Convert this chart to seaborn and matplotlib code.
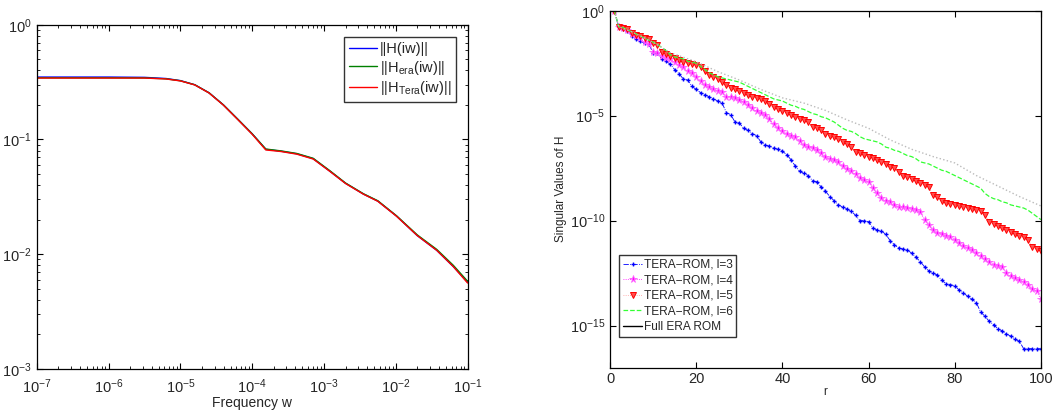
import numpy as np
import pandas as pd
import matplotlib
matplotlib.use("Agg")
import matplotlib.pyplot as plt
from matplotlib.lines import Line2D
import seaborn as sns

# ── Data ──────────────────────────────────────────────────────────────────
# left panel: frequency response, log10(w) and |H|
freq_log = [-7.0, -6.0, -5.5, -5.2, -5.0, -4.8, -4.6, -4.4, -4.2, -4.0, -3.81,
            -3.6, -3.38, -3.15, -2.92, -2.7, -2.45, -2.25, -1.99, -1.7, -1.43, -1.2, -1.0]
h_full = [0.350, 0.350, 0.348, 0.340, 0.326, 0.300, 0.255, 0.200, 0.150, 0.112, 0.0820,
          0.0790, 0.0750, 0.0680, 0.0530, 0.0415, 0.0334, 0.0290, 0.0215, 0.0145, 0.0108, 0.0078, 0.0057]
h_era = [0.345, 0.345, 0.344, 0.338, 0.325, 0.300, 0.255, 0.200, 0.150, 0.112, 0.0825,
         0.0795, 0.0755, 0.0685, 0.0535, 0.0417, 0.0336, 0.0292, 0.0216, 0.0147, 0.0110, 0.0080, 0.0058]
h_tera = [0.343, 0.343, 0.343, 0.337, 0.324, 0.299, 0.254, 0.199, 0.149, 0.111, 0.0810,
          0.0785, 0.0745, 0.0675, 0.0528, 0.0413, 0.0333, 0.0289, 0.0214, 0.0145, 0.0108, 0.0078, 0.0056]

# right panel: log10 of singular values for r = 1..100
r_vals = list(range(1, 101))
sv_l3 = [0, -0.76, -0.85, -0.95, -1.2, -1.35, -1.45, -1.55, -1.6, -2.0,
         -2.0, -2.3, -2.4, -2.55, -2.8, -3.0, -3.25, -3.3, -3.6, -3.75,
         -3.9, -4.0, -4.1, -4.2, -4.3, -4.4, -4.85, -4.95, -5.3, -5.35,
         -5.6, -5.7, -5.85, -5.95, -6.25, -6.4, -6.45, -6.55, -6.6, -6.7,
         -6.85, -7.1, -7.4, -7.65, -7.75, -7.85, -8.1, -8.15, -8.4, -8.6,
         -8.85, -9.05, -9.25, -9.35, -9.45, -9.55, -9.75, -10.0, -10.0, -10.05,
         -10.35, -10.45, -10.5, -10.65, -10.95, -11.15, -11.3, -11.35, -11.4, -11.55,
         -11.75, -11.95, -12.2, -12.4, -12.5, -12.6, -12.85, -13.0, -13.05, -13.1,
         -13.3, -13.45, -13.6, -13.75, -13.9, -14.35, -14.55, -14.8, -14.95, -15.15,
         -15.25, -15.4, -15.5, -15.65, -15.75, -16.1, -16.1, -16.1, -16.1, -16.1]
sv_l4 = [0, -0.76, -0.8, -0.9, -1.1, -1.2, -1.3, -1.5, -1.6, -1.95,
         -2.0, -2.15, -2.25, -2.3, -2.45, -2.6, -2.7, -2.85, -2.95, -3.15,
         -3.35, -3.55, -3.65, -3.75, -3.8, -3.85, -4.1, -4.1, -4.15, -4.25,
         -4.35, -4.5, -4.65, -4.8, -4.85, -4.95, -5.15, -5.4, -5.6, -5.75,
         -5.85, -5.95, -6.0, -6.2, -6.4, -6.5, -6.55, -6.65, -6.8, -6.95,
         -7.05, -7.1, -7.2, -7.4, -7.55, -7.65, -7.8, -7.95, -8.05, -8.15,
         -8.45, -8.7, -8.9, -9.05, -9.1, -9.25, -9.35, -9.35, -9.4, -9.45,
         -9.5, -9.6, -9.95, -10.2, -10.45, -10.6, -10.65, -10.75, -10.8, -10.9,
         -11.05, -11.2, -11.3, -11.4, -11.55, -11.7, -11.85, -11.95, -12.1, -12.15,
         -12.2, -12.5, -12.65, -12.75, -12.85, -12.9, -13.05, -13.25, -13.35, -13.75]
sv_l5 = [0, -0.76, -0.8, -0.85, -1.05, -1.15, -1.2, -1.3, -1.35, -1.55,
         -1.65, -1.95, -2.05, -2.15, -2.25, -2.35, -2.45, -2.5, -2.55, -2.6,
         -2.7, -2.85, -3.05, -3.15, -3.25, -3.4, -3.55, -3.7, -3.75, -3.8,
         -3.9, -4.0, -4.1, -4.15, -4.2, -4.3, -4.45, -4.6, -4.7, -4.8,
         -4.85, -4.95, -5.05, -5.15, -5.2, -5.3, -5.55, -5.6, -5.7, -5.85,
         -5.95, -6.0, -6.1, -6.25, -6.35, -6.5, -6.75, -6.8, -6.85, -6.95,
         -7.0, -7.1, -7.2, -7.3, -7.45, -7.5, -7.7, -7.85, -7.9, -8.0,
         -8.1, -8.2, -8.3, -8.4, -8.8, -8.85, -9.05, -9.15, -9.2, -9.25,
         -9.3, -9.35, -9.4, -9.45, -9.5, -9.55, -9.75, -10.05, -10.15, -10.25,
         -10.35, -10.45, -10.55, -10.65, -10.75, -10.8, -10.9, -11.25, -11.35, -11.45]
sv_l6 = [0, -0.76, -0.8, -0.9, -1.0, -1.1, -1.2, -1.3, -1.4, -1.5,
         -1.6, -1.75, -1.9, -2.1, -2.2, -2.25, -2.3, -2.4, -2.45, -2.5,
         -2.65, -2.8, -2.95, -3.05, -3.15, -3.2, -3.25, -3.3, -3.35, -3.4,
         -3.5, -3.6, -3.7, -3.8, -3.9, -4.0, -4.1, -4.2, -4.25, -4.3,
         -4.4, -4.5, -4.55, -4.65, -4.7, -4.8, -4.9, -4.95, -5.05, -5.1,
         -5.2, -5.3, -5.45, -5.6, -5.7, -5.75, -5.85, -6.0, -6.1, -6.15,
         -6.2, -6.25, -6.35, -6.5, -6.55, -6.65, -6.7, -6.8, -6.9, -6.95,
         -7.05, -7.2, -7.25, -7.3, -7.4, -7.5, -7.6, -7.65, -7.75, -7.85,
         -7.95, -8.05, -8.15, -8.25, -8.35, -8.45, -8.7, -8.85, -8.95, -9.0,
         -9.1, -9.15, -9.25, -9.3, -9.35, -9.4, -9.5, -9.65, -9.8, -9.95]
r_full = [1, 2, 5, 10, 14, 20, 25, 30, 35, 40, 45, 50, 55, 60, 65, 70, 75, 80, 85, 90, 95, 100]
sv_full = [0, -0.76, -1.0, -1.5, -2.0, -2.43, -2.9, -3.3, -3.75, -4.15, -4.4,
           -4.75, -5.2, -5.6, -6.15, -6.6, -6.95, -7.25, -7.85, -8.35, -8.85, -9.3]

# ── Style ─────────────────────────────────────────────────────────────────
sns.set_style("ticks")
plt.rcParams["font.family"] = ["Liberation Sans", "DejaVu Sans"]
plt.rcParams["mathtext.default"] = "regular"
plt.rcParams["xtick.direction"] = "in"
plt.rcParams["ytick.direction"] = "in"
plt.rcParams["axes.linewidth"] = 0.9
plt.rcParams["axes.edgecolor"] = "black"

fig = plt.figure(figsize=(10.56, 4.13), dpi=100)
ax1 = fig.add_axes([0.0348, 0.107, 0.408, 0.833])
ax2 = fig.add_axes([0.5777, 0.110, 0.408, 0.864])

# ── Left: frequency response ─────────────────────────────────────────────
w = np.power(10.0, freq_log)
for vals, col, lab in [(h_full, "blue", "||H(iw)||"),
                       (h_era, "green", "||H$_{era}$(iw)||"),
                       (h_tera, "red", "||H$_{Tera}$(iw)||")]:
    sns.lineplot(x=w, y=vals, color=col, lw=1.0, label=lab, ax=ax1)
ax1.set_xscale("log")
ax1.set_yscale("log")
ax1.set_xlim(1e-7, 1e-1)
ax1.set_ylim(1e-3, 1e0)
ax1.set_xticks([10.0 ** k for k in range(-7, 0)])
ax1.set_yticks([10.0 ** k for k in range(-3, 1)])
ax1.set_xlabel("Frequency w", fontsize=10, labelpad=0)
ax1.tick_params(which="both", top=True, right=True, labelsize=10.5, color="black")
ax1.tick_params(axis="x", pad=6)
ax1.tick_params(which="major", length=4)
ax1.tick_params(which="minor", length=2)
leg1 = ax1.legend(loc="upper right", fontsize=10.5, frameon=True, fancybox=False,
                  handlelength=1.9, handletextpad=0.25, labelspacing=0.2, borderpad=0.3,
                  bbox_to_anchor=(0.99, 0.985))
leg1.get_frame().set_edgecolor("black")
leg1.get_frame().set_linewidth(1.0)

# ── Right: singular values ───────────────────────────────────────────────
series = [
    (sv_l3, "TERA\u2212ROM, l=3", dict(color="blue", marker="+", linestyle="-.", markersize=3.5,
                                       mec="blue", mew=1.0, lw=0.6)),
    (sv_l4, "TERA\u2212ROM, l=4", dict(color="magenta", marker="*", linestyle=":", markersize=5.5,
                                       mec="#ff66ff", mfc="magenta", mew=0.6, lw=0.6)),
    (sv_l5, "TERA\u2212ROM, l=5", dict(color="#ff9999", marker="v", linestyle=":", markersize=3.8,
                                       mfc="#ff5050", mec="red", mew=0.7, lw=0.6)),
    (sv_l6, "TERA\u2212ROM, l=6", dict(color="#33ff33", marker=None, linestyle="--", lw=0.9)),
]
for vals, lab, kw in series:
    sns.lineplot(x=r_vals, y=np.power(10.0, vals), ax=ax2, label=lab, **kw)
sns.lineplot(x=r_full, y=np.power(10.0, sv_full), ax=ax2, color="#bbbbbb",
             linestyle=":", lw=1.0, label="_nolegend_")

ax2.set_yscale("log")
ax2.set_xlim(0, 100)
ax2.set_ylim(1e-17, 1e0)
ax2.set_yticks([1e0, 1e-5, 1e-10, 1e-15])
ax2.yaxis.set_minor_locator(matplotlib.ticker.NullLocator())
ax2.set_xticks([0, 20, 40, 60, 80, 100])
ax2.set_xlabel("r", fontsize=8.5, labelpad=0)
ax2.set_ylabel("Singular Values of H", fontsize=8.5, labelpad=2)
ax2.tick_params(which="both", top=True, right=True, labelsize=10.5, length=4, color="black")

handles, labels = ax2.get_legend_handles_labels()
handles.append(Line2D([], [], color="black", lw=1.0))
labels.append("Full ERA ROM")
leg2 = ax2.legend(handles, labels, loc="lower left", fontsize=8.6, frameon=True,
                  fancybox=False, handlelength=1.6, handletextpad=0.15,
                  labelspacing=0.3, borderpad=0.3, bbox_to_anchor=(0.008, 0.07))
leg2.get_frame().set_edgecolor("black")
leg2.get_frame().set_linewidth(1.0)

fig.savefig("out.png", dpi=100)
